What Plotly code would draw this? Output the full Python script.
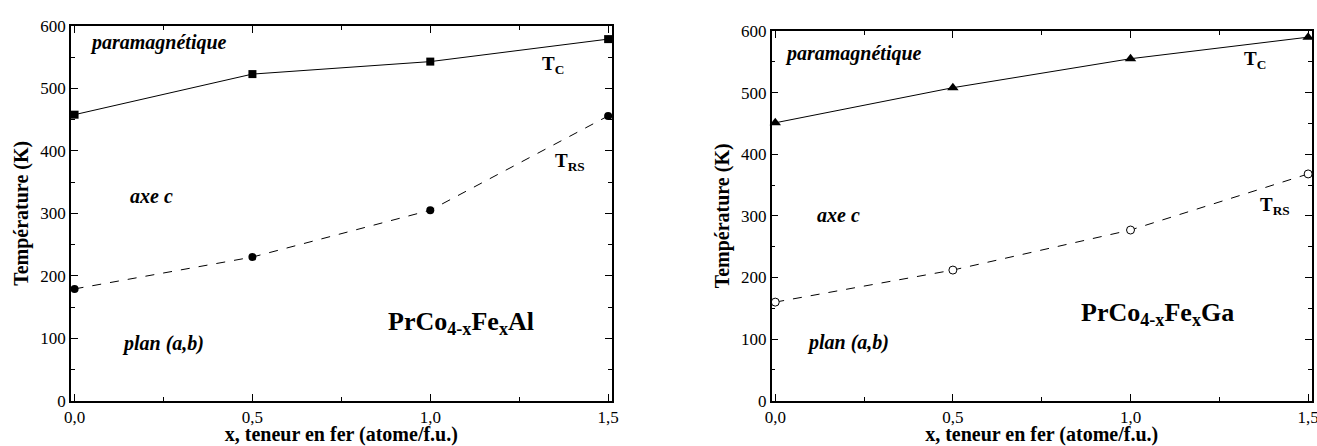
import plotly.graph_objects as go

# ---- data ----
x_fe = [0.0, 0.5, 1.0, 1.5]
al_tc = [458, 523, 543, 579]
al_trs = [179, 230, 305, 456]
ga_tc = [451, 508, 555, 590]
ga_trs = [160, 212, 277, 368]

x_ticks = [0.0, 0.5, 1.0, 1.5]
x_ticklabels = ["0,0", "0,5", "1,0", "1,5"]
x_minor = [0.25, 0.75, 1.25]
y_ticks = [0, 100, 200, 300, 400, 500, 600]
y_ticklabels = ["0", "100", "200", "300", "400", "500", "600"]
y_minor = [50, 150, 250, 350, 450, 550]

FONT = "Liberation Serif"

fig = go.Figure()

# left panel (Al)
fig.add_trace(go.Scatter(x=x_fe, y=al_tc, mode="lines+markers", xaxis="x", yaxis="y",
                         line=dict(color="black", width=1), cliponaxis=False,
                         marker=dict(symbol="square", size=8, color="black"), showlegend=False))
fig.add_trace(go.Scatter(x=x_fe, y=al_trs, mode="lines+markers", xaxis="x", yaxis="y",
                         line=dict(color="black", width=1, dash="dash"), cliponaxis=False,
                         marker=dict(symbol="circle", size=8, color="black"), showlegend=False))
# right panel (Ga)
fig.add_trace(go.Scatter(x=x_fe, y=ga_tc, mode="lines+markers", xaxis="x2", yaxis="y2",
                         line=dict(color="black", width=1), cliponaxis=False,
                         marker=dict(symbol="triangle-up", size=10, color="black"), showlegend=False))
fig.add_trace(go.Scatter(x=x_fe, y=ga_trs, mode="lines+markers", xaxis="x2", yaxis="y2",
                         line=dict(color="black", width=1, dash="dash"), cliponaxis=False,
                         marker=dict(symbol="circle", size=8, color="white",
                                     line=dict(color="black", width=1)), showlegend=False))

W, H = 1317, 446


def xaxis(domain, anchor):
    return dict(domain=domain, anchor=anchor, range=[-0.01, 1.51], automargin=False,
                tickmode="array", tickvals=x_ticks, ticktext=x_ticklabels,
                ticks="inside", ticklen=7, tickwidth=1, tickcolor="black",
                ticklabeloverflow="allow",
                minor=dict(tickmode="array", tickvals=x_minor, ticks="inside", ticklen=4,
                           tickwidth=1, tickcolor="black"),
                showline=True, linecolor="black", linewidth=1.5, mirror="ticks",
                showgrid=False, zeroline=False,
                tickfont=dict(family=FONT, size=17, color="black"),
                title=dict(text="<b>x, teneur en fer (atome/f.u.)</b>",
                           font=dict(family=FONT, size=20, color="black"), standoff=3))


def yaxis(domain, anchor):
    return dict(domain=domain, anchor=anchor, range=[0, 600], automargin=False,
                tickmode="array", tickvals=y_ticks, ticktext=y_ticklabels,
                ticks="inside", ticklen=7, tickwidth=1, tickcolor="black",
                ticklabeloverflow="allow",
                minor=dict(tickmode="array", tickvals=y_minor, ticks="inside", ticklen=4,
                           tickwidth=1, tickcolor="black"),
                showline=True, linecolor="black", linewidth=1.5, mirror="ticks",
                showgrid=False, zeroline=False,
                tickfont=dict(family=FONT, size=17, color="black"),
                title=dict(text="<b>Température (K)</b>",
                           font=dict(family=FONT, size=20, color="black"), standoff=6))


fig.update_layout(
    width=W, height=H,
    margin=dict(l=0, r=0, t=0, b=0, autoexpand=False),
    paper_bgcolor="white", plot_bgcolor="white",
    font=dict(family=FONT, color="black"),
    xaxis=xaxis([71 / W, 611.7 / W], "y"),
    yaxis=yaxis([1 - 400.7 / H, 1 - 26 / H], "x"),
    xaxis2=xaxis([771.7 / W, 1311.7 / W], "y2"),
    yaxis2=yaxis([1 - 400.7 / H, 1 - 31 / H], "x2"),
)

ann_font = dict(family=FONT, size=20, color="black")
big_font = dict(family=FONT, size=26, color="black")
t_font = dict(family=FONT, size=19, color="black")


def add_ann(xref, yref, x, y, text, font, xanchor="left"):
    fig.add_annotation(xref=xref, yref=yref, x=x, y=y, text=text, font=font,
                       showarrow=False, xanchor=xanchor, yanchor="middle")


# left annotations
add_ann("x", "y", 0.039, 573, "<b><i>paramagnétique</i></b>", ann_font)
add_ann("x", "y", 0.151, 327, "<b><i>axe c</i></b>", ann_font)
add_ann("x", "y", 0.129, 92, "<b><i>plan (a,b)</i></b>", ann_font)
add_ann("x", "y", 1.309, 538, "<b>T<sub>C</sub></b>", t_font)
add_ann("x", "y", 1.345, 382, "<b>T<sub>RS</sub></b>", t_font)
add_ann("x", "y", 1.085, 125, "<b>PrCo<sub>4-x</sub>Fe<sub>x</sub>Al</b>", big_font, "center")

# right annotations
add_ann("x2", "y2", 0.021, 564, "<b><i>paramagnétique</i></b>", ann_font)
add_ann("x2", "y2", 0.111, 301, "<b><i>axe c</i></b>", ann_font)
add_ann("x2", "y2", 0.085, 94, "<b><i>plan (a,b)</i></b>", ann_font)
add_ann("x2", "y2", 1.315, 553, "<b>T<sub>C</sub></b>", t_font)
add_ann("x2", "y2", 1.36, 316, "<b>T<sub>RS</sub></b>", t_font)
add_ann("x2", "y2", 1.077, 140, "<b>PrCo<sub>4-x</sub>Fe<sub>x</sub>Ga</b>", big_font, "center")

fig.write_html(
    "out.html",
    config={"displayModeBar": False},
    post_script="document.body.style.margin='0';document.body.style.overflow='hidden';",
)
